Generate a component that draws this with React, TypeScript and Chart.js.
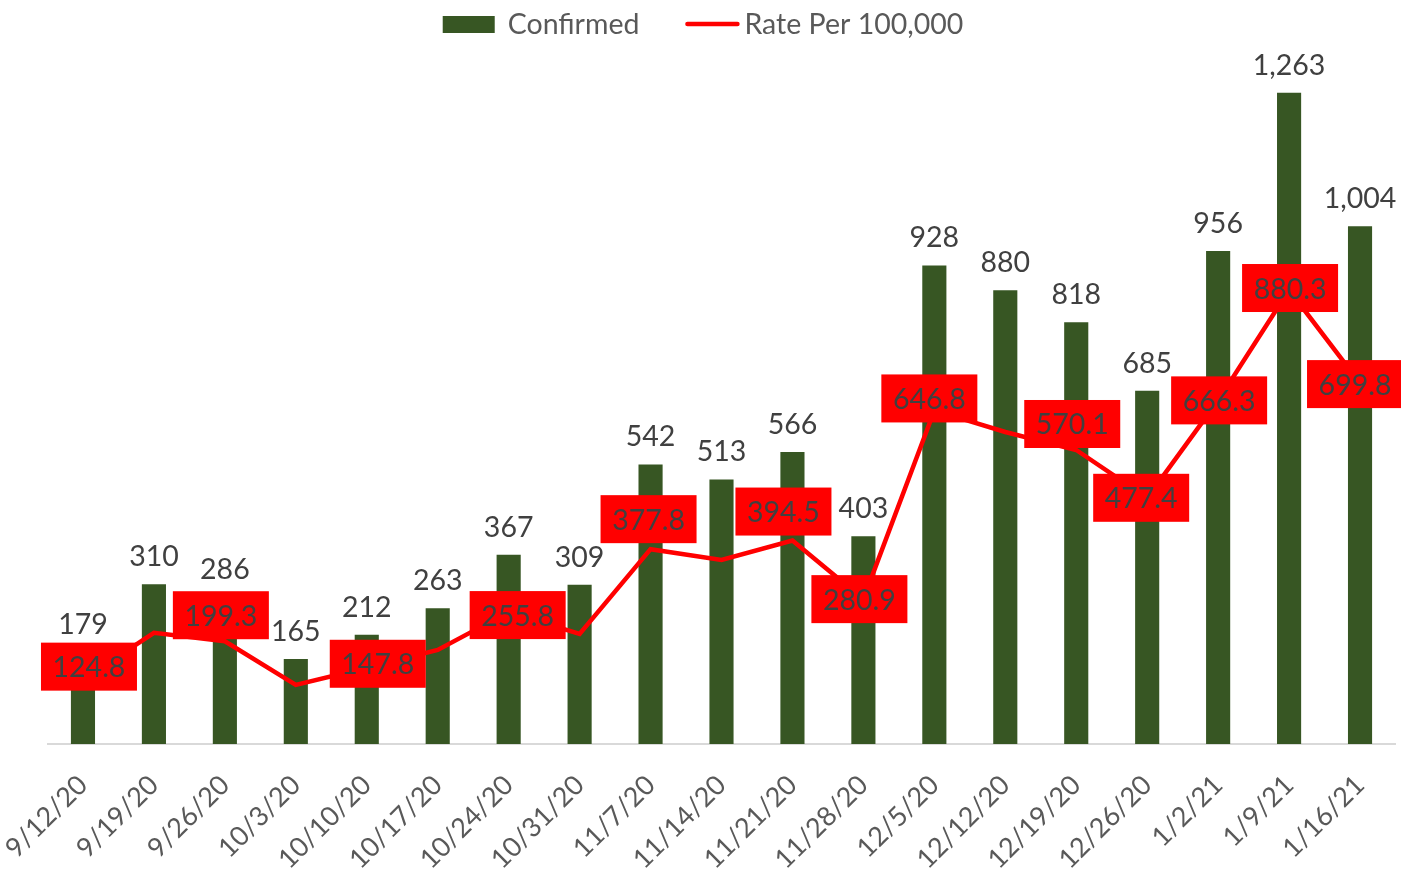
import React, { useEffect, useRef } from "react";
import { Chart, registerables } from "chart.js";

Chart.register(...registerables);

const categories = [
  "9/12/20", "9/19/20", "9/26/20", "10/3/20", "10/10/20", "10/17/20", "10/24/20",
  "10/31/20", "11/7/20", "11/14/20", "11/21/20", "11/28/20", "12/5/20", "12/12/20",
  "12/19/20", "12/26/20", "1/2/21", "1/9/21", "1/16/21",
];
const confirmed = [179, 310, 286, 165, 212, 263, 367, 309, 542, 513, 566, 403, 928, 880, 818, 685, 956, 1263, 1004];
const ratePer100k = [124.8, 215.5, 199.3, 114.5, 147.8, 182.4, 255.8, 213.4, 377.8, 357.0, 394.5, 280.9, 646.8, 605.0, 570.1, 477.4, 666.3, 880.3, 699.8];
const rateLabelShown = [true, false, true, false, true, false, true, false, true, false, true, true, true, false, true, true, true, true, true];

const FONT = "Lato, 'Open Sans', sans-serif";
const BAR_COLOR = "#375623";
const LINE_COLOR = "#FF0000";

// manual nudges of the rate label boxes (dx, dy in px), as placed in the original
const rateLabelNudge: [number, number][] = [
  [6, -13], [0, 0], [-4, -26], [0, 0], [11, -4], [0, 0], [9, 3], [0, 0], [-2, -30], [0, 0],
  [-9, -29], [-4, 0], [-5, -12], [0, 0], [-4, -26], [-6, 0], [1, 0], [1, -2], [-5, 1],
];

const labelPlugin = {
  id: "valueLabels",
  afterDatasetsDraw(chart: any) {
    const ctx = chart.ctx as CanvasRenderingContext2D;
    ctx.save();
    ctx.font = `28.5px ${FONT}`;
    ctx.textAlign = "center";
    ctx.textBaseline = "alphabetic";
    ctx.fillStyle = "#404040";
    const barMeta = chart.getDatasetMeta(0);
    barMeta.data.forEach((el: any, i: number) => {
      ctx.fillText(confirmed[i].toLocaleString("en-US"), el.x, el.y - 18);
    });
    const lineMeta = chart.getDatasetMeta(1);
    lineMeta.data.forEach((pt: any, i: number) => {
      if (!rateLabelShown[i]) return;
      const [dx, dy] = rateLabelNudge[i];
      const cx = pt.x + dx;
      const cy = pt.y + dy;
      ctx.fillStyle = LINE_COLOR;
      ctx.fillRect(cx - 48, cy - 24, 96, 48);
      ctx.fillStyle = "#404040";
      ctx.fillText(ratePer100k[i].toFixed(1), cx, cy + 10.5);
    });
    ctx.restore();
  },
};

const legendPlugin = {
  id: "customLegend",
  afterDraw(chart: any) {
    const ctx = chart.ctx as CanvasRenderingContext2D;
    ctx.save();
    ctx.font = `28.5px ${FONT}`;
    const t1 = "Confirmed";
    const t2 = "Rate Per 100,000";
    const w1 = ctx.measureText(t1).width;
    const w2 = ctx.measureText(t2).width;
    const total = 52 + 13 + w1 + 46 + 54 + 5 + w2;
    let x = 703 - total / 2;
    const y = 24;
    ctx.fillStyle = BAR_COLOR;
    ctx.fillRect(x, 16, 52, 17);
    x += 52 + 13;
    ctx.fillStyle = "#595959";
    ctx.textBaseline = "middle";
    ctx.textAlign = "left";
    ctx.fillText(t1, x, y + 1);
    x += w1 + 46;
    ctx.strokeStyle = LINE_COLOR;
    ctx.lineWidth = 4.5;
    ctx.lineCap = "round";
    ctx.beginPath();
    ctx.moveTo(x + 2, y);
    ctx.lineTo(x + 52, y);
    ctx.stroke();
    x += 54 + 5;
    ctx.fillText(t2, x, y + 1);
    ctx.restore();
  },
};

export default function App() {
  const ref = useRef<HTMLCanvasElement>(null);
  useEffect(() => {
    const chart = new Chart(ref.current!, {
      type: "bar",
      data: {
        labels: categories,
        datasets: [
          {
            type: "bar",
            label: "Confirmed",
            data: confirmed,
            backgroundColor: BAR_COLOR,
            barPercentage: 0.34,
            categoryPercentage: 1,
            order: 2,
          },
          {
            type: "line",
            label: "Rate Per 100,000",
            data: ratePer100k,
            borderColor: LINE_COLOR,
            borderWidth: 4.5,
            pointRadius: 0,
            tension: 0,
            order: 1,
          } as any,
        ],
      },
      options: {
        responsive: false,
        animation: false,
        layout: { padding: { left: 47.5, right: 5.5, top: 22, bottom: 0 } },
        plugins: { legend: { display: false }, tooltip: { enabled: false } },
        scales: {
          x: {
            grid: { display: false, drawTicks: false },
            border: { display: true, color: "#D9D9D9", width: 2 },
            ticks: {
              autoSkip: false,
              minRotation: 45,
              maxRotation: 45,
              padding: 25,
              color: "#595959",
              font: { family: FONT, size: 27 },
            },
            afterFit: (scale: any) => {
              scale.height = 128;
              scale.paddingLeft = 0;
              scale.paddingRight = 0;
            },
          },
          y: { display: false, min: 0, max: 1400 },
        },
      },
      plugins: [labelPlugin, legendPlugin],
    });
    return () => chart.destroy();
  }, []);
  return (
    <div style={{ position: "absolute", left: 0, top: 0, width: 1401, height: 872, background: "#fff" }}>
      <canvas ref={ref} width={1401} height={872} style={{ display: "block" }} />
    </div>
  );
}
